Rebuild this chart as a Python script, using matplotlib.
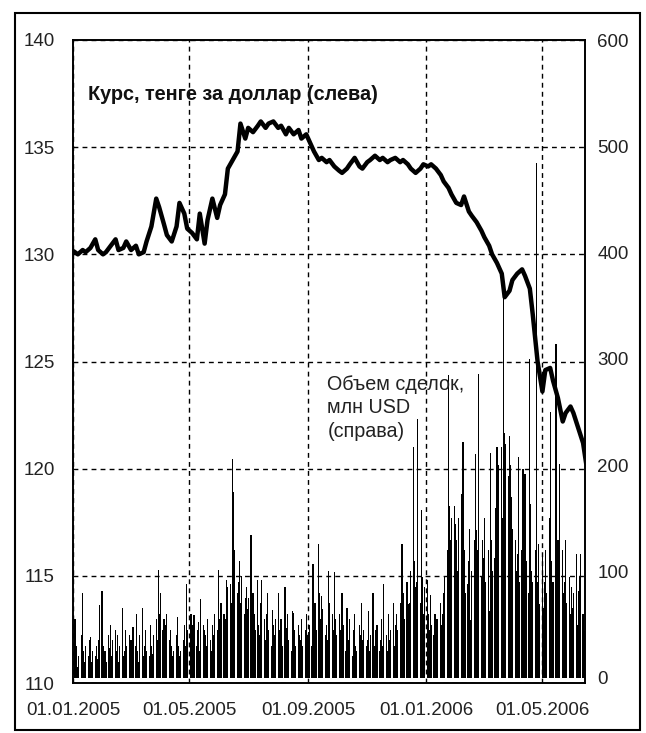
import matplotlib
matplotlib.use("Agg")
import matplotlib.pyplot as plt
import pandas as pd
from matplotlib.patches import Rectangle

plt.rcParams['font.family'] = ['Liberation Sans', 'DejaVu Sans']

# ---- data ----
# exchange rate, tenge per USD, sampled every 3 business days from 03.01.2005
rate = [130.1, 130.0, 130.2, 130.1, 130.3, 130.7, 130.2, 130.0, 130.1, 130.4,
        130.7, 130.2, 130.3, 130.6, 130.2, 130.4, 130.0, 130.1, 130.6, 131.3,
        132.6, 132.2, 131.4, 130.9, 130.6, 131.3, 132.4, 131.9, 131.2, 131.0,
        130.7, 131.9, 130.5, 131.6, 132.6, 131.7, 132.3, 132.8, 134.0, 134.4,
        134.8, 136.1, 135.4, 135.9, 135.7, 136.0, 136.2, 135.9, 136.1, 136.2,
        135.9, 136.0, 135.6, 135.9, 135.6, 135.8, 135.4, 135.6, 135.3, 134.8,
        134.4, 134.5, 134.3, 134.4, 134.1, 133.9, 133.8, 134.0, 134.2, 134.5,
        134.1, 134.0, 134.3, 134.4, 134.6, 134.4, 134.5, 134.3, 134.4, 134.5,
        134.3, 134.4, 134.2, 134.0, 133.8, 134.0, 134.2, 134.1, 134.2, 134.0,
        133.7, 133.4, 133.1, 132.8, 132.4, 132.3, 132.7, 132.0, 131.8, 131.5,
        131.1, 130.8, 130.4, 130.0, 129.6, 129.1, 128.0, 128.3, 128.8, 129.1,
        129.3, 129.0, 128.4, 127.2, 125.0, 123.6, 124.6, 124.7, 124.1, 123.3,
        122.2, 122.6, 122.9, 122.6, 121.9, 121.2, 120.3]

# daily trading volume, mln USD, by month (business days)
vol_2005_01 = [55, 25, 30, 10, 20, 40, 80, 25, 15, 30, 20, 35, 38, 15, 25, 20, 30, 18, 35, 68, 82]
vol_2005_02 = [30, 20, 25, 15, 40, 28, 50, 20, 35, 45, 25, 40, 15, 30, 66, 20, 25, 45, 30, 40]
vol_2005_03 = [20, 35, 25, 48, 30, 60, 25, 15, 40, 66, 20, 30, 45, 25, 20, 50, 30, 22, 40, 55, 35, 101, 60]
vol_2005_04 = [80, 45, 55, 40, 50, 60, 35, 45, 30, 20, 25, 40, 57, 30, 20, 25, 35, 50, 30, 88, 45]
vol_2005_05 = [40, 60, 50, 35, 59, 30, 45, 52, 25, 74, 50, 45, 40, 30, 55, 35, 25, 50, 40, 60, 45, 101]
vol_2005_06 = [55, 40, 70, 60, 55, 45, 92, 85, 88, 70, 206, 175, 120, 80, 90, 110, 70, 96, 60, 75, 85, 65]
vol_2005_07 = [75, 134, 64, 80, 60, 45, 92, 50, 40, 70, 92, 55, 35, 60, 80, 45, 30, 64, 50, 40, 55]
vol_2005_08 = [80, 45, 35, 55, 30, 85, 47, 40, 60, 35, 25, 63, 61, 45, 30, 50, 40, 35, 55, 30, 45, 60, 40]
vol_2005_09 = [43, 50, 30, 107, 60, 70, 45, 126, 80, 55, 77, 65, 40, 50, 35, 100, 70, 60, 45, 99, 55, 40]
vol_2005_10 = [60, 45, 30, 80, 50, 25, 66, 40, 35, 55, 20, 45, 60, 30, 25, 50, 40, 70, 35, 45, 30]
vol_2005_11 = [35, 63, 25, 40, 80, 30, 20, 45, 50, 25, 35, 55, 30, 88, 40, 25, 60, 35, 45, 70, 30, 50]
vol_2005_12 = [60, 45, 70, 55, 126, 80, 55, 90, 60, 69, 70, 100, 217, 110, 85, 90, 243, 70, 158, 95, 60, 85]
vol_2006_01 = [92, 60, 45, 78, 50, 40, 60, 35, 55, 41, 70, 50, 60, 80, 95, 120, 285, 162, 130, 150, 162, 145]
vol_2006_02 = [130, 100, 150, 173, 90, 222, 120, 80, 88, 110, 140, 54, 100, 130, 210, 139, 120, 286, 95, 130]
vol_2006_03 = [113, 150, 90, 120, 63, 211, 130, 100, 113, 160, 217, 180, 200, 217, 150, 359, 230, 220, 190, 227, 200, 170, 140]
vol_2006_04 = [130, 100, 116, 208, 90, 120, 196, 150, 192, 110, 80, 300, 163, 100, 90, 120, 484, 90, 126, 69]
vol_2006_05 = [116, 66, 90, 120, 80, 150, 250, 110, 70, 90, 314, 82, 130, 100, 201, 120, 80, 90, 130, 70, 95, 60, 85]
vol_2006_06 = [66, 80, 116, 50, 82, 95, 116, 60, 44, 40]

volume = (vol_2005_01 + vol_2005_02 + vol_2005_03 + vol_2005_04 + vol_2005_05 +
          vol_2005_06 + vol_2005_07 + vol_2005_08 + vol_2005_09 + vol_2005_10 +
          vol_2005_11 + vol_2005_12 + vol_2006_01 + vol_2006_02 + vol_2006_03 +
          vol_2006_04 + vol_2006_05 + vol_2006_06)

tick_dates = ['2005-01-01', '2005-05-01', '2005-09-01', '2006-01-01', '2006-05-01']
tick_labels = ['01.01.2005', '01.05.2005', '01.09.2005', '01.01.2006', '01.05.2006']
left_ticks = [110, 115, 120, 125, 130, 135, 140]
right_ticks = [0, 100, 200, 300, 400, 500, 600]

label_rate = 'Курс, тенге за доллар (слева)'
label_vol = 'Объем сделок,\nмлн USD\n(справа)'

# ---- plot ----
vol_dates = pd.bdate_range('2005-01-03', periods=len(volume))
rate_dates = pd.bdate_range('2005-01-03', periods=3 * len(rate))[::3]

fig = plt.figure(figsize=(6.46, 7.33), dpi=100)
ax = fig.add_axes([73/646, 1 - 683/733, 512/646, 643/733])
ax2 = ax.twinx()

ax2.bar(vol_dates, volume, width=1.25, color='black', linewidth=0,
        align='center', antialiased=False)
ax2.set_ylim(-5, 600)
ax2.set_yticks(right_ticks)

ax.set_zorder(ax2.get_zorder() + 1)
ax.patch.set_visible(False)
ax.plot(rate_dates, rate, color='black', lw=3.2, solid_joinstyle='round')
ax.set_ylim(110, 140)
ax.set_yticks(left_ticks)
ax.set_xlim(pd.Timestamp('2005-01-01'), pd.Timestamp('2006-06-14'))
ax.set_xticks(pd.to_datetime(tick_dates))
ax.set_xticklabels(tick_labels)

ax.grid(True, color='black', linestyle=(0, (3.5, 3)), linewidth=1.0)

for a in (ax, ax2):
    for s in a.spines.values():
        s.set_color('black')
        s.set_linewidth(1.2)
ax.tick_params(axis='both', length=0, labelsize=13.5, colors='#222222')
ax.tick_params(axis='y', pad=13)
ax.tick_params(axis='x', pad=14)
ax2.tick_params(axis='y', length=0, labelsize=13.5, colors='#222222', pad=9)

ax.text(0.03, 0.915, label_rate, transform=ax.transAxes, fontsize=14.3,
        fontweight='bold', ha='left', va='center', color='#111111')
ax.text(0.497, 0.428, label_vol, transform=ax.transAxes, fontsize=14.2,
        ha='left', va='center', color='#222222', linespacing=1.3)

fig.patches.append(Rectangle((15/646, 1 - 730/733), 625/646, 717/733,
                             transform=fig.transFigure, fill=False,
                             edgecolor='black', linewidth=1.5))

fig.savefig('out.png', dpi=100)
